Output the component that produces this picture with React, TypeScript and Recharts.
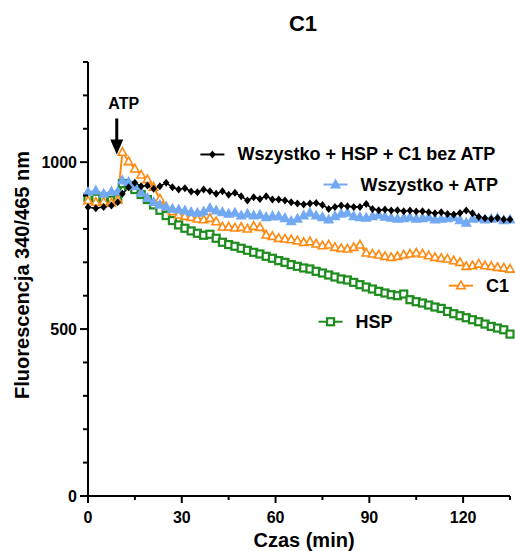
import React from 'react';
import { LineChart, Line, XAxis, YAxis, ReferenceDot } from 'recharts';

// czas pomiaru (min): przed ATP co ~2.5 min, potem co 2 min
const times = [
  0, 2.5, 5, 7.5, 9.5,
  11, 13, 15, 17, 19, 21, 23, 25, 27, 29, 31, 33, 35, 37, 39, 41, 43, 45, 47, 49,
  51, 53, 55, 57, 59, 61, 63, 65, 67, 69, 71, 73, 75, 77, 79, 81, 83, 85, 87, 89,
  91, 93, 95, 97, 99, 101, 103, 105, 107, 109, 111, 113, 115, 117, 119, 121, 123, 125, 127, 129,
  131, 133, 135,
];

const bezAtp = [
  865, 862, 866, 870, 880,
  905, 925, 938, 928, 930, 920, 928, 938, 925, 918, 922, 912, 910, 918, 913, 905, 913, 902, 908, 898,
  885, 895, 890, 898, 888, 888, 885, 880, 876, 873, 876, 878, 872, 860, 866, 870, 868, 866, 866, 875,
  860, 856, 858, 855, 856, 853, 855, 852, 853, 850, 847, 850, 845, 843, 848, 855, 847, 836, 832, 830,
  833, 828, 828,
];

const wszystkoAtp = [
  910, 915, 905, 912, 912,
  945, 940, 928, 908, 892, 880, 872, 866, 860, 858, 855, 850, 848, 852, 862, 855, 850, 845, 848, 840,
  845, 840, 842, 835, 838, 838, 832, 823, 830, 840, 848, 840, 835, 828, 838, 845, 848, 838, 835, 833,
  838, 842, 836, 833, 830, 832, 835, 830, 832, 835, 828, 830, 832, 835, 826, 818, 830, 832, 828, 830,
  832, 826, 828,
];

const c1 = [
  885, 880, 882, 878, 887,
  1030, 1002, 980, 962, 948, 925, 890, 865, 852, 842, 838, 835, 830, 828, 832, 822, 806, 806, 803, 805,
  800, 808, 805, 782, 778, 772, 770, 768, 765, 760, 762, 755, 750, 752, 745, 742, 740, 745, 752, 728,
  725, 722, 718, 715, 718, 722, 725, 728, 725, 720, 715, 712, 710, 705, 700, 688, 690, 695, 690, 688,
  685, 683, 680,
];

const hsp = [
  895, 892, 888, 886, 890,
  936, 930, 918, 903, 888, 872, 856, 840, 825, 812, 802, 794, 787, 781, 784, 772, 760, 753, 748, 742,
  736, 730, 725, 718, 712, 705, 700, 693, 688, 683, 680, 673, 668, 662, 656, 650, 647, 640, 633, 626,
  620, 613, 608, 603, 600, 605, 588, 582, 578, 572, 566, 562, 553, 546, 540, 534, 528, 522, 515, 508,
  503, 498, 485,
];

const xTicks = [0, 15, 30, 45, 60, 75, 90, 105, 120, 135];
const yTicks = [0, 100, 200, 300, 400, 500, 600, 700, 800, 900, 1000, 1100, 1200, 1300];

const FONT = '"Liberation Sans", Arial, sans-serif';
const BLACK = '#000000';
const BLUE = '#72a9f2';
const ORANGE = '#ff8a12';
const GREEN = '#1e8c1e';

const data = times.map((t, i) => ({
  t,
  bezAtp: bezAtp[i],
  atp: wszystkoAtp[i],
  c1: c1[i],
  hsp: hsp[i],
}));

const diamond = (cx: number, cy: number, key?: any) => (
  <path key={key} d={`M${cx},${cy - 4}L${cx + 3.3},${cy}L${cx},${cy + 4}L${cx - 3.3},${cy}Z`} fill={BLACK} />
);
const triangle = (cx: number, cy: number, color: string, filled: boolean, key?: any) => (
  <path
    key={key}
    d={`M${cx},${cy - 4.5}L${cx + 4.2},${cy + 3.1}L${cx - 4.2},${cy + 3.1}Z`}
    fill={filled ? color : '#fff'}
    stroke={color}
    strokeWidth={1.6}
  />
);
const square = (cx: number, cy: number, key?: any) => (
  <rect key={key} x={cx - 3.5} y={cy - 3.5} width={7} height={7} fill="#fff" stroke={GREEN} strokeWidth={2.2} />
);

const YTick = (props: any) => {
  const { x, y, payload } = props;
  const major = payload.value % 500 === 0;
  return (
    <g>
      <line x1={x - (major ? 8 : 5)} x2={x} y1={y} y2={y} stroke={BLACK} strokeWidth={2} />
      {major && (
        <text x={x - 11} y={y} dy={6} textAnchor="end" fontFamily={FONT} fontWeight="bold" fontSize={16} fill={BLACK}>
          {payload.value}
        </text>
      )}
    </g>
  );
};

const XTick = (props: any) => {
  const { x, y, payload } = props;
  const major = payload.value % 30 === 0;
  return (
    <g>
      <line x1={x} x2={x} y1={y} y2={y + (major ? 7 : 4)} stroke={BLACK} strokeWidth={2} />
      {major && (
        <text x={x} y={y + 27} textAnchor="middle" fontFamily={FONT} fontWeight="bold" fontSize={16} fill={BLACK}>
          {payload.value}
        </text>
      )}
    </g>
  );
};

// wpis legendy rysowany w polu wykresu: próbka linii z markerem + opis
const legendEntry = (label: string, color: string, marker: (cx: number, cy: number) => React.ReactNode) =>
  (props: any) => {
    const { cx, cy } = props;
    return (
      <g>
        <line x1={cx - 12} x2={cx + 12} y1={cy} y2={cy} stroke={color} strokeWidth={2} />
        {marker(cx, cy)}
        <text x={cx + 25} y={cy} dy={6} fontFamily={FONT} fontWeight="bold" fontSize={18} fill={BLACK}>
          {label}
        </text>
      </g>
    );
  };

const atpArrow = (props: any) => {
  const { cx, cy } = props;
  return (
    <g>
      <text x={cx + 7} y={cy - 45} textAnchor="middle" fontFamily={FONT} fontWeight="bold" fontSize={16} fill={BLACK}>
        ATP
      </text>
      <line x1={cx} x2={cx} y1={cy - 36} y2={cy - 14} stroke={BLACK} strokeWidth={3} />
      <path d={`M${cx - 6.5},${cy - 15}L${cx + 6.5},${cy - 15}L${cx},${cy}Z`} fill={BLACK} />
    </g>
  );
};

export default function App() {
  return (
    <div style={{ position: 'absolute', left: 0, top: 0, width: 515, height: 551, background: '#fff' }}>
      <div
        style={{
          position: 'absolute',
          left: 0,
          width: 606,
          top: 11,
          textAlign: 'center',
          fontFamily: FONT,
          fontWeight: 'bold',
          fontSize: 22,
          color: '#000',
        }}
      >
        C1
      </div>
      <LineChart width={515} height={551} data={data} margin={{ top: 62, right: 5, bottom: 0, left: 28 }}>
        <XAxis
          dataKey="t"
          type="number"
          domain={[0, 135]}
          ticks={xTicks}
          interval={0}
          height={55}
          tickSize={0}
          tickMargin={0}
          tickLine={false}
          tick={<XTick />}
          axisLine={{ stroke: BLACK, strokeWidth: 2 }}
          label={{
            content: (p: any) => (
              <text
                x={p.viewBox.x + p.viewBox.width / 2 + 5}
                y={p.viewBox.y + 51}
                textAnchor="middle"
                fontFamily={FONT}
                fontWeight="bold"
                fontSize={20}
                fill={BLACK}
              >
                Czas (min)
              </text>
            ),
          }}
        />
        <YAxis
          type="number"
          domain={[0, 1300]}
          ticks={yTicks}
          interval={0}
          width={60}
          tickSize={0}
          tickMargin={0}
          tickLine={false}
          tick={<YTick />}
          axisLine={{ stroke: BLACK, strokeWidth: 2 }}
          label={{
            content: (p: any) => {
              const cx = p.viewBox.x - 6;
              const cy = p.viewBox.y + p.viewBox.height / 2 - 4;
              return (
                <text
                  x={cx}
                  y={cy}
                  transform={`rotate(-90 ${cx} ${cy})`}
                  textAnchor="middle"
                  dominantBaseline="central"
                  fontFamily={FONT}
                  fontWeight="bold"
                  fontSize={20}
                  fill={BLACK}
                >
                  Fluorescencja 340/465 nm
                </text>
              );
            },
          }}
        />
        <Line
          dataKey="hsp"
          stroke={GREEN}
          strokeWidth={2}
          isAnimationActive={false}
          dot={(p: any) => square(p.cx, p.cy, p.index)}
        />
        <Line
          dataKey="c1"
          stroke={ORANGE}
          strokeWidth={2}
          isAnimationActive={false}
          dot={(p: any) => triangle(p.cx, p.cy, ORANGE, false, p.index)}
        />
        <Line
          dataKey="atp"
          stroke={BLUE}
          strokeWidth={2}
          isAnimationActive={false}
          dot={(p: any) => triangle(p.cx, p.cy, BLUE, true, p.index)}
        />
        <Line
          dataKey="bezAtp"
          stroke={BLACK}
          strokeWidth={1.6}
          isAnimationActive={false}
          dot={(p: any) => diamond(p.cx, p.cy, p.index)}
        />
        <ReferenceDot x={39.8} y={1023} r={0} shape={legendEntry('Wszystko + HSP + C1 bez ATP', BLACK, (x, y) => diamond(x, y))} />
        <ReferenceDot x={79.2} y={933} r={0} shape={legendEntry('Wszystko + ATP', BLUE, (x, y) => triangle(x, y, BLUE, true))} />
        <ReferenceDot x={119.3} y={630} r={0} shape={legendEntry('C1', ORANGE, (x, y) => triangle(x, y, ORANGE, false))} />
        <ReferenceDot x={77.6} y={522} r={0} shape={legendEntry('HSP', GREEN, (x, y) => square(x, y))} />
        <ReferenceDot x={9.2} y={1023} r={0} shape={atpArrow} />
      </LineChart>
    </div>
  );
}
